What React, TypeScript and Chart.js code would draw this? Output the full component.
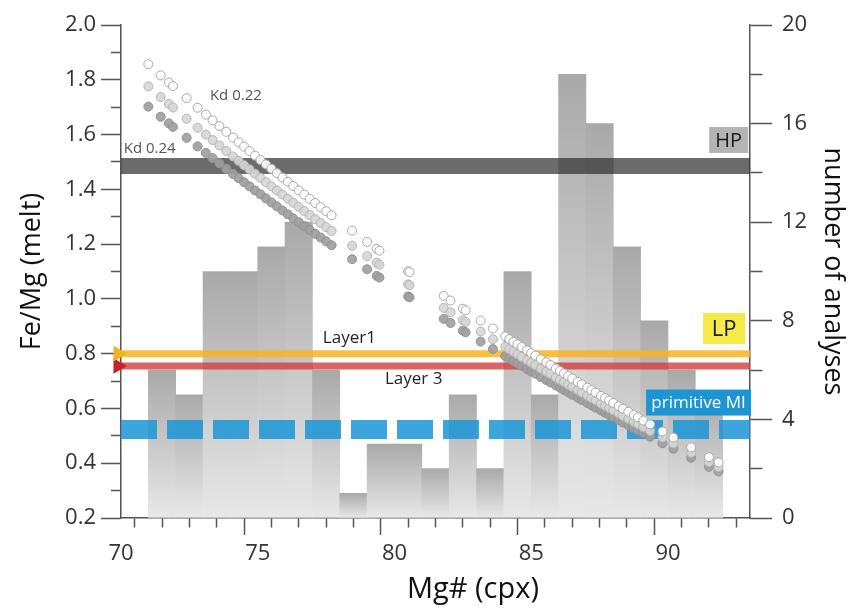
import React, { useEffect, useRef } from 'react';
import { Chart, registerables } from 'chart.js';

Chart.register(...registerables);

const FONT = "'Open Sans', sans-serif";

// ---- axes ----
const xMin = 70;
const xMax = 93;
const yMin = 0.2;
const yMax = 2.0;
const y2Min = 0;
const y2Max = 20;
const xLabelTicks = [70, 75, 80, 85, 90];
const yLabelTicks = [0.2, 0.4, 0.6, 0.8, 1.0, 1.2, 1.4, 1.6, 1.8, 2.0];
const y2LabelTicks = [0, 4, 8, 12, 16, 20];

// ---- histogram (number of analyses per Mg# bin, right axis) ----
const histBinStart = [71, 72, 73, 74, 75, 76, 77, 78, 79, 80, 81, 82, 83, 84, 85, 86, 87, 88, 89, 90, 91];
const histCounts = [6, 5, 10, 10, 11, 12, 6, 1, 3, 3, 2, 5, 2, 10, 5, 18, 16, 11, 8, 6, 5];

// ---- cpx Mg# and equilibrium melt Fe/Mg for three Kd values ----
const mgNumber = [
  71.0, 71.45, 71.75, 71.9, 72.4, 72.8, 73.1, 73.35, 73.6, 73.85, 74.1, 74.3, 74.5, 74.7, 74.9,
  75.1, 75.3, 75.5, 75.7, 75.9, 76.1, 76.3, 76.5, 76.7, 76.9, 77.1, 77.3, 77.5, 77.7,
  78.45, 79.0, 79.35, 79.45, 80.5, 80.55, 81.8, 82.05, 82.5, 82.6, 83.15, 83.6,
  84.05, 84.2, 84.35, 84.5, 84.65, 84.85, 85.0, 85.15, 85.35, 85.55, 85.7, 85.9, 86.05, 86.2,
  86.35, 86.5, 86.7, 86.85, 87.05, 87.2, 87.35, 87.55, 87.7, 87.85, 88.0, 88.2, 88.35, 88.55,
  88.75, 88.9, 89.1, 89.35,
  89.8, 90.2, 90.85, 91.5, 91.85,
];
const feMgKd022 = [
  1.857, 1.816, 1.790, 1.777, 1.733, 1.698, 1.673, 1.652, 1.631, 1.610, 1.589, 1.572, 1.556, 1.540, 1.523,
  1.507, 1.491, 1.475, 1.459, 1.443, 1.428, 1.412, 1.396, 1.381, 1.365, 1.350, 1.335, 1.320, 1.305,
  1.249, 1.208, 1.183, 1.176, 1.101, 1.098, 1.011, 0.994, 0.964, 0.958, 0.921, 0.892,
  0.863, 0.853, 0.843, 0.834, 0.824, 0.812, 0.802, 0.793, 0.780, 0.768, 0.759, 0.746, 0.737, 0.728,
  0.719, 0.709, 0.697, 0.688, 0.676, 0.667, 0.658, 0.646, 0.638, 0.629, 0.620, 0.608, 0.599, 0.588,
  0.576, 0.568, 0.556, 0.542,
  0.516, 0.494, 0.458, 0.422, 0.403,
];
const feMgKd023 = [
  1.776, 1.737, 1.712, 1.699, 1.658, 1.625, 1.600, 1.580, 1.560, 1.540, 1.520, 1.504, 1.488, 1.473, 1.457,
  1.442, 1.426, 1.411, 1.396, 1.381, 1.366, 1.351, 1.336, 1.321, 1.306, 1.291, 1.277, 1.262, 1.248,
  1.194, 1.156, 1.132, 1.125, 1.053, 1.050, 0.967, 0.951, 0.922, 0.916, 0.881, 0.853,
  0.825, 0.816, 0.807, 0.798, 0.788, 0.776, 0.767, 0.758, 0.746, 0.734, 0.726, 0.714, 0.705, 0.696,
  0.687, 0.679, 0.667, 0.658, 0.647, 0.638, 0.630, 0.618, 0.610, 0.601, 0.593, 0.582, 0.573, 0.562,
  0.551, 0.543, 0.532, 0.518,
  0.494, 0.472, 0.438, 0.404, 0.386,
];
const feMgKd024 = [
  1.702, 1.665, 1.641, 1.628, 1.588, 1.557, 1.533, 1.514, 1.495, 1.475, 1.456, 1.441, 1.426, 1.411, 1.396,
  1.382, 1.367, 1.352, 1.338, 1.323, 1.309, 1.294, 1.280, 1.266, 1.252, 1.238, 1.224, 1.210, 1.196,
  1.145, 1.108, 1.084, 1.078, 1.009, 1.006, 0.927, 0.912, 0.884, 0.878, 0.844, 0.817,
  0.791, 0.782, 0.773, 0.764, 0.756, 0.744, 0.735, 0.727, 0.715, 0.704, 0.695, 0.684, 0.676, 0.667,
  0.659, 0.650, 0.639, 0.631, 0.620, 0.612, 0.603, 0.593, 0.584, 0.576, 0.568, 0.558, 0.549, 0.539,
  0.528, 0.520, 0.510, 0.497,
  0.473, 0.453, 0.420, 0.387, 0.370,
];

// ---- reference melt compositions (Fe/Mg) ----
const hpLevel = 1.485;
const layer1Level = 0.8;
const layer3Level = 0.755;
const primitiveMiLevel = 0.523;
const arrowX = 69.89;

const isMajorX = (v: number) => xLabelTicks.includes(Math.round(v * 100) / 100);
const isMajorY = (v: number) => yLabelTicks.some((t) => Math.abs(t - v) < 1e-6);
const isMajorY2 = (v: number) => y2LabelTicks.includes(Math.round(v));

const annotationPlugin = {
  id: 'annotations',
  afterDatasetsDraw(chart: any) {
    const { ctx, scales } = chart;
    const x = scales.x;
    const y = scales.y;
    ctx.save();
    ctx.textBaseline = 'middle';

    ctx.font = `15px ${FONT}`;
    ctx.fillStyle = '#555';
    ctx.textAlign = 'center';
    ctx.fillText('Kd 0.22', x.getPixelForValue(74.2), y.getPixelForValue(1.74));
    ctx.textAlign = 'left';
    ctx.fillText('Kd 0.24', x.getPixelForValue(70.1), y.getPixelForValue(1.55));

    ctx.font = `17px ${FONT}`;
    ctx.fillStyle = '#222';
    ctx.textAlign = 'center';
    ctx.fillText('Layer1', x.getPixelForValue(78.35), y.getPixelForValue(0.857));
    ctx.fillText('Layer 3', x.getPixelForValue(80.7), y.getPixelForValue(0.707));

    const box = (text: string, cx: number, cy: number, w: number, h: number, bg: string, fg: string, size: number) => {
      const px = x.getPixelForValue(cx);
      const py = y.getPixelForValue(cy);
      ctx.fillStyle = bg;
      ctx.fillRect(px - w / 2, py - h / 2, w, h);
      ctx.fillStyle = fg;
      ctx.font = `${size}px ${FONT}`;
      ctx.textAlign = 'center';
      ctx.fillText(text, px, py + 1);
    };
    box('HP', 92.22, 1.58, 39, 26, '#b4b4b4', '#1a1a1a', 20);
    box('LP', 92.05, 0.892, 42, 31, '#f6ea4a', '#1a1a1a', 22);
    box('primitive MI', 91.12, 0.6215, 105, 26, '#1d95d3', '#ffffff', 17);
    ctx.restore();
  },
  afterDraw(chart: any) {
    const { ctx, scales } = chart;
    ctx.save();
    ctx.font = `29px ${FONT}`;
    ctx.fillStyle = '#111';
    ctx.textAlign = 'center';
    ctx.textBaseline = 'middle';
    ctx.fillText('Mg# (cpx)', scales.x.getPixelForValue(82.87), 590);
    ctx.restore();
  },
};

const barGradient = (c: any) => {
  const chart = c.chart;
  if (!chart.chartArea || c.type !== 'data' || !chart.scales.y2) return '#bdbdbd';
  const top = chart.scales.y2.getPixelForValue(c.raw.y);
  const bottom = chart.scales.y2.getPixelForValue(0);
  const g = chart.ctx.createLinearGradient(0, top, 0, bottom);
  g.addColorStop(0, '#a9a9a9');
  g.addColorStop(1, '#e8e8e8');
  return g;
};

const band = (level: number, color: string, width: number, order: number, dash: number[] = []) => ({
  type: 'line' as const,
  data: [
    { x: xMin, y: level },
    { x: xMax, y: level },
  ],
  borderColor: color,
  borderWidth: width,
  borderDash: dash,
  borderCapStyle: 'butt',
  pointRadius: 0,
  fill: false,
  showLine: true,
  tension: 0,
  xAxisID: 'x',
  yAxisID: 'y',
  order,
});

const pointSeries = (values: number[], fill: string, border: string, order: number) => ({
  type: 'scatter' as const,
  data: mgNumber.map((m, i) => ({ x: m, y: values[i] })),
  pointRadius: 4.5,
  pointBackgroundColor: fill,
  pointBorderColor: border,
  pointBorderWidth: 1,
  xAxisID: 'x',
  yAxisID: 'y',
  order,
});

const tickColor = '#555';

export default function App() {
  const ref = useRef<HTMLCanvasElement>(null);
  useEffect(() => {
    const canvas = ref.current;
    if (!canvas) return;
    const chart = new Chart(canvas, {
      type: 'scatter',
      data: {
        datasets: [
          pointSeries(feMgKd022, 'rgba(255,255,255,0.92)', '#a8a8a8', 0),
          pointSeries(feMgKd023, 'rgba(214,214,214,0.92)', '#b5b5b5', 1),
          pointSeries(feMgKd024, 'rgba(160,160,160,0.92)', '#929292', 2),
          {
            type: 'scatter',
            data: [
              { x: arrowX, y: layer1Level },
            ],
            pointStyle: 'triangle',
            pointRotation: 90,
            pointRadius: 9,
            pointBackgroundColor: '#f5b21c',
            pointBorderWidth: 0,
            clip: false,
            xAxisID: 'x',
            yAxisID: 'y',
            order: 3,
          },
          {
            type: 'scatter',
            data: [
              { x: arrowX, y: layer3Level },
            ],
            pointStyle: 'triangle',
            pointRotation: 90,
            pointRadius: 9,
            pointBackgroundColor: '#c9202a',
            pointBorderWidth: 0,
            clip: false,
            xAxisID: 'x',
            yAxisID: 'y',
            order: 3,
          },
          band(hpLevel, 'rgba(50,50,50,0.72)', 16, 4),
          band(layer1Level, 'rgba(248,180,30,0.85)', 7, 5),
          band(layer3Level, 'rgba(211,61,61,0.8)', 7, 6),
          band(primitiveMiLevel, 'rgba(26,149,214,0.85)', 19, 7, [36, 10]),
          {
            type: 'bar',
            data: histBinStart.map((s, i) => ({ x: s + 0.5, y: histCounts[i] })),
            backgroundColor: barGradient,
            borderWidth: 0,
            barPercentage: 1,
            categoryPercentage: 1,
            xAxisID: 'x',
            yAxisID: 'y2',
            order: 10,
          },
        ] as any,
      },
      options: {
        responsive: false,
        devicePixelRatio: 1,
        animation: false,
        events: [],
        layout: { padding: { top: 25, left: 0, right: 0, bottom: 0 } },
        plugins: { legend: { display: false }, tooltip: { enabled: false } },
        scales: {
          x: {
            type: 'linear',
            position: 'bottom',
            min: xMin,
            max: xMax,
            offset: false,
            afterFit: (s: any) => {
              s.height = 95;
            },
            border: { display: true, color: tickColor, width: 1.5 },
            grid: {
              drawOnChartArea: false,
              drawTicks: true,
              tickLength: 17,
              tickColor,
              tickWidth: 1.5,
              tickBorderDash: (c: any) => (c.tick && isMajorX(c.tick.value) ? [] : [9, 100]),
            },
            ticks: {
              stepSize: 1,
              autoSkip: false,
              maxRotation: 0,
              padding: 6,
              color: '#333',
              font: { family: FONT, size: 22 },
              callback: (v: any) => (isMajorX(Number(v)) ? String(v) : ''),
            },
          },
          y: {
            type: 'linear',
            position: 'left',
            min: yMin,
            max: yMax,
            afterFit: (s: any) => {
              s.width = 121;
            },
            border: { display: true, color: tickColor, width: 1.5 },
            grid: {
              drawOnChartArea: false,
              drawTicks: true,
              tickLength: 20,
              tickColor,
              tickWidth: 1.5,
              tickBorderDash: (c: any) => (c.tick && isMajorY(c.tick.value) ? [] : [0, 10, 10, 100]),
            },
            ticks: {
              stepSize: 0.1,
              autoSkip: false,
              padding: 5,
              color: '#333',
              font: { family: FONT, size: 22 },
              callback: (v: any) => (isMajorY(Number(v)) ? Number(v).toFixed(1) : ''),
            },
            title: {
              display: true,
              text: 'Fe/Mg (melt)',
              color: '#111',
              font: { family: FONT, size: 27 },
              padding: { top: 16, bottom: 0 },
            },
          },
          y2: {
            type: 'linear',
            position: 'right',
            min: y2Min,
            max: y2Max,
            afterFit: (s: any) => {
              s.width = 110;
            },
            border: { display: true, color: tickColor, width: 1.5 },
            grid: {
              drawOnChartArea: false,
              drawTicks: true,
              tickLength: 22,
              tickColor,
              tickWidth: 1.5,
              tickBorderDash: (c: any) => (c.tick && isMajorY2(c.tick.value) ? [] : [12, 100]),
            },
            ticks: {
              stepSize: 2,
              autoSkip: false,
              padding: 10,
              color: '#333',
              font: { family: FONT, size: 22 },
              callback: (v: any) => (isMajorY2(Number(v)) ? String(v) : ''),
            },
            title: {
              display: true,
              text: 'number of analyses',
              color: '#111',
              font: { family: FONT, size: 27 },
              padding: { top: 11, bottom: 0 },
            },
          },
        },
      } as any,
      plugins: [annotationPlugin],
    });
    return () => chart.destroy();
  }, []);

  return (
    <div style={{ position: 'absolute', left: 0, top: 0, width: 860, height: 613, background: '#fff' }}>
      <canvas ref={ref} width={860} height={613} style={{ display: 'block' }} />
    </div>
  );
}
